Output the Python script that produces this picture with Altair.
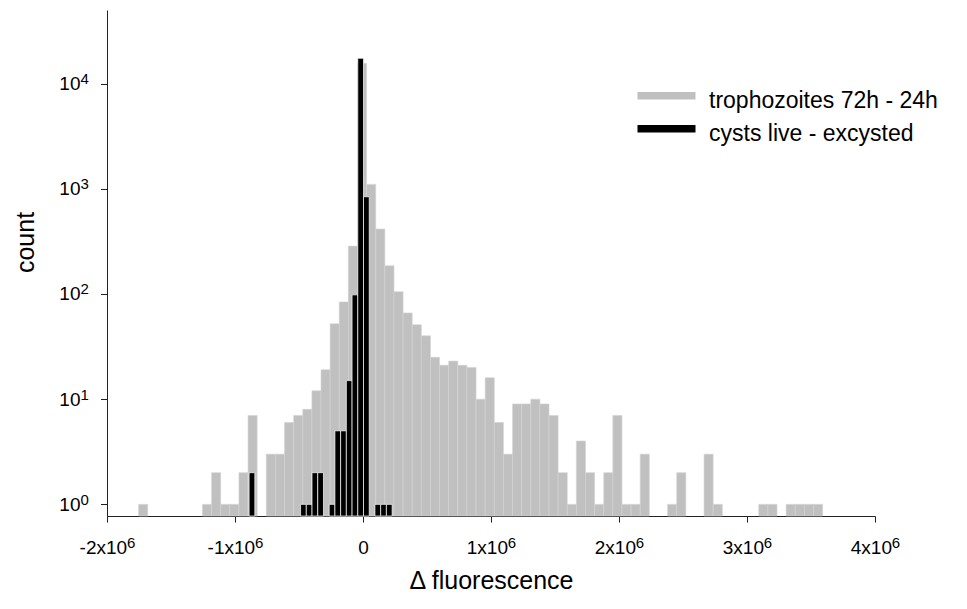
import altair as alt
import pandas as pd

# ---- data ----
series_names = ["trophozoites 72h - 24h", "cysts live - excysted"]
series_colors = ["#c0c0c0", "#000000"]

# trophozoites histogram (grey): first bin start, bin width, counts per bin
troph_start = -1753000
troph_width = 71250
troph_counts = [1, 0, 0, 0, 0, 0, 0, 1, 2, 1,
                1, 2, 7, 0, 3, 3, 6, 7, 8, 12,
                19, 52, 84, 285, 15560, 1100, 414, 185, 105, 66,
                51, 40, 25, 21, 23, 21, 20, 10, 16, 6,
                3, 9, 9, 10, 9, 7, 2, 1, 4, 2,
                1, 2, 7, 1, 1, 3, 0, 0, 1, 2,
                0, 0, 3, 1, 0, 0, 0, 0, 1, 1,
                0, 1, 1, 1, 1]

# cysts histogram (black)
cyst_start = -889800
cyst_width = 44690
cyst_counts = [2, 0, 0, 0, 0, 0, 0, 0, 0, 1,
               1, 2, 2, 0, 1, 5, 5, 15, 98, 17370,
               839, 0, 1, 1, 1]

x_ticks = [-2000000, -1000000, 0, 1000000, 2000000, 3000000, 4000000]
x_tick_exponent = "6"
x_domain = [-2000000, 4000000]
y_ticks = [1, 10, 100, 1000, 10000]
y_tick_exponents = ["0", "1", "2", "3", "4"]
y_domain = [0.775, 50000]

W, H = 768, 506
FONT = "Liberation Sans"
TICK_FS = 19
SUP_FS = 15


def to_rows(name, start, width, counts):
    rows = []
    for i, c in enumerate(counts):
        if c > 0:
            rows.append({"series": name, "x0": start + i * width,
                         "x1": start + (i + 1) * width, "count": c})
    return rows


troph_df = pd.DataFrame(to_rows(series_names[0], troph_start, troph_width, troph_counts))
cyst_df = pd.DataFrame(to_rows(series_names[1], cyst_start, cyst_width, cyst_counts))

x_neg_df = pd.DataFrame({"v": [v for v in x_ticks if v < 0], "sup": x_tick_exponent})
x_pos_df = pd.DataFrame({"v": [v for v in x_ticks if v > 0], "sup": x_tick_exponent})
y_sup_df = pd.DataFrame({"v": y_ticks, "sup": y_tick_exponents})

x_scale = alt.Scale(domain=x_domain, nice=False, zero=False)
y_scale = alt.Scale(type="log", domain=y_domain, nice=False)

# axis label = mantissa part; exponent drawn as a raised smaller text layer
x_label_expr = "datum.value == 0 ? '0' : (datum.value / 1000000) + 'x10'"
y_label_expr = "'10'"

x_enc = alt.X(
    "x0:Q", scale=x_scale,
    axis=alt.Axis(
        values=x_ticks, labelExpr=x_label_expr, title="Δ fluorescence",
        grid=False, tickSize=6, tickColor="#222222", domainColor="#222222",
        tickWidth=1, domainWidth=1, labelFont=FONT, labelFontSize=TICK_FS,
        labelColor="black", labelPadding=16, labelFlush=False,
        labelAlign={"condition": {"test": "datum.value == 0", "value": "center"}, "value": "right"},
        labelOffset={"condition": [
            {"test": "datum.value < 0", "value": 19.6},
            {"test": "datum.value == 0", "value": 0},
        ], "value": 16.5},
        labelOverlap=False,
        titleFont=FONT, titleFontSize=25, titleFontWeight="normal",
        titleColor="black", titlePadding=11,
    ),
)
y_enc = alt.Y(
    "count:Q", scale=y_scale,
    axis=alt.Axis(
        values=y_ticks, labelExpr=y_label_expr, title="count",
        grid=False, tickSize=6.5, tickColor="#222222", domainColor="#222222",
        tickWidth=1, domainWidth=1, labelFont=FONT, labelFontSize=TICK_FS,
        labelColor="black", labelPadding=20.5, labelFlush=False,
        labelOverlap=False,
        titleFont=FONT, titleFontSize=25, titleFontWeight="normal",
        titleColor="black", titleX=-74, titleY=232, titleAngle=270,
        titleBaseline="alphabetic", titleAlign="center",
    ),
)
color_enc = alt.Color(
    "series:N",
    scale=alt.Scale(domain=series_names, range=series_colors),
    legend=alt.Legend(
        title=None, orient="none", legendX=548, legendY=79,
        symbolType="M-5.8,-1.7H5.8V-0.2H-5.8Z", symbolSize=100,
        symbolStrokeWidth=0, symbolOpacity=1, symbolOffset=0,
        labelFont=FONT, labelFontSize=23, labelColor="black",
        labelOffset=31, labelLimit=500, rowPadding=9, padding=0,
    ),
)

grey = alt.Chart(troph_df).mark_rect(stroke="#d4d4d4", strokeWidth=0.6).encode(
    x=x_enc, x2="x1:Q", y=y_enc, y2=alt.datum(y_domain[0]), color=color_enc
)
black = alt.Chart(cyst_df).mark_rect(stroke="#ffffff", strokeWidth=0.7).encode(
    x=x_enc, x2="x1:Q", y=y_enc, y2=alt.datum(y_domain[0]), color=color_enc
)

sup_y_off = 6 + 16 + 0.79 * TICK_FS - 5.3
x_sup_neg = alt.Chart(x_neg_df).mark_text(
    font=FONT, fontSize=SUP_FS, color="black", align="left",
    baseline="alphabetic", dx=19.9, dy=sup_y_off,
).encode(x=alt.X("v:Q", scale=x_scale), y=alt.value(H), text="sup:N")
x_sup_pos = alt.Chart(x_pos_df).mark_text(
    font=FONT, fontSize=SUP_FS, color="black", align="left",
    baseline="alphabetic", dx=16.8, dy=sup_y_off,
).encode(x=alt.X("v:Q", scale=x_scale), y=alt.value(H), text="sup:N")
y_sup = alt.Chart(y_sup_df).mark_text(
    font=FONT, fontSize=SUP_FS, color="black", align="left",
    baseline="alphabetic", dx=-26.5, dy=0.5,
).encode(x=alt.value(0), y=alt.Y("v:Q", scale=y_scale), text="sup:N")

chart = (
    alt.layer(grey, black, x_sup_neg, x_sup_pos, y_sup)
    .properties(
        width=W, height=H, autosize="none", background="white",
        padding={"left": 99, "top": 2, "right": 80, "bottom": 85},
    )
    .configure_view(strokeWidth=0, stroke=None)
)

chart.save("out.html", embed_options={"renderer": "svg", "actions": False})
